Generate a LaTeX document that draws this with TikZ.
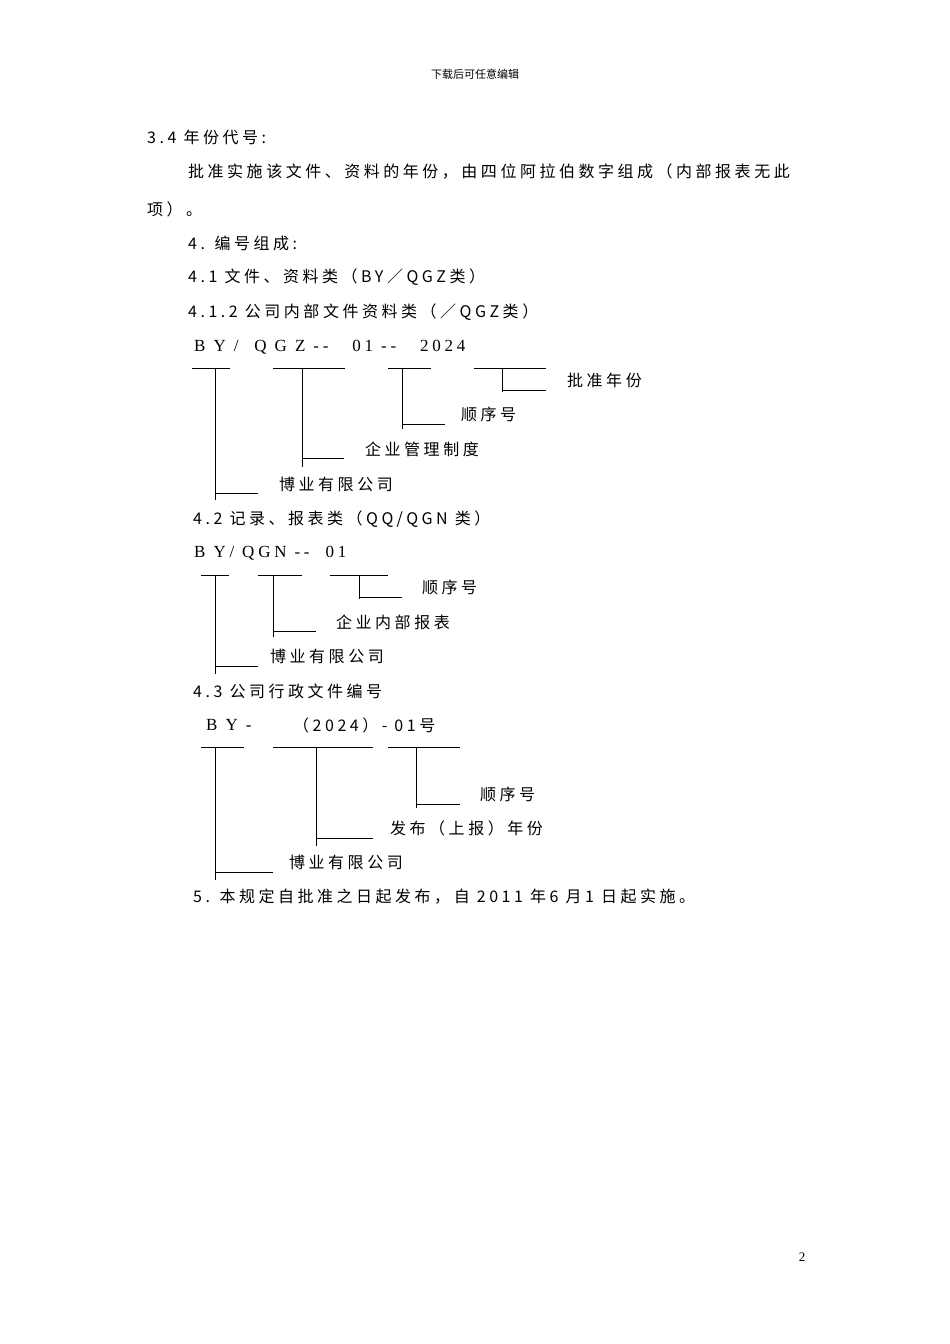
\documentclass[tikz,border=0pt]{standalone}
\usepackage{fontspec}
\setmainfont{Noto Sans CJK SC}[LetterSpace=22]
\newfontfamily\hdfont{Noto Sans CJK SC}
\newfontfamily\latfont{Liberation Serif}[LetterSpace=22]
\begin{document}
\begin{tikzpicture}[x=1pt,y=-1pt,
  txt/.style={anchor=west,inner sep=0pt,font=\fontsize{16}{18}\selectfont},
  code/.style={anchor=west,inner sep=0pt,font=\fontsize{17}{18}\latfont},
  ln/.style={line width=1pt}]
\useasboundingbox[fill=white] (0,0) rectangle (950,1344);
\node[inner sep=0pt,font=\fontsize{11}{12}\hdfont] (hd) at (475,74) {下载后可任意编辑};
\node[txt] (t1) at (147,137) {3.4 年份代号:};
\node[txt] (t2) at (188,172) {批准实施该文件、资料的年份，由四位阿拉伯数字组成（内部报表无此};
\node[txt] (t3) at (147,209) {项）。};
\node[txt] (t4) at (188,243) {4. 编号组成:};
\node[txt] (t5) at (188,277) {4.1 文件、资料类（BY／QGZ类）};
\node[txt] (t6) at (188,312) {4.1.2 公司内部文件资料类（／QGZ类）};
% diagram 1
\node[code] (c1) at (194,347) {B Y /\ \ Q G Z --\ \ \ 01 --\ \ \ 2024};
\draw[ln] (192,368)--(230,368) (273,368)--(345,368) (388,368)--(431,368) (474,368)--(546,368);
\draw[ln] (215,368)--(215,500) (215,493)--(258,493);
\draw[ln] (302,368)--(302,467) (302,458)--(344,458);
\draw[ln] (402,368)--(402,429) (402,424)--(445,424);
\draw[ln] (502,368)--(502,392) (502,390)--(546,390);
\node[txt] (a1) at (279,484) {博业有限公司};
\node[txt] (a2) at (365,449) {企业管理制度};
\node[txt] (a3) at (461,414) {顺序号};
\node[txt] (a4) at (567,380) {批准年份};
\node[txt] (t7) at (193,519) {4.2 记录、报表类（QQ/QGN 类）};
% diagram 2
\node[code] (c2) at (194,553) {B Y/ QGN --\ \ 01};
\draw[ln] (201,575)--(229,575) (258,575)--(302,575) (330,575)--(388,575);
\draw[ln] (215,575)--(215,674) (215,666)--(258,666);
\draw[ln] (273,575)--(273,637) (273,631)--(316,631);
\draw[ln] (359,575)--(359,599) (359,597)--(402,597);
\node[txt] (b1) at (270,656) {博业有限公司};
\node[txt] (b2) at (336,622) {企业内部报表};
\node[txt] (b3) at (422,587) {顺序号};
\node[txt] (t8) at (193,691) {4.3 公司行政文件编号};
% diagram 3
\node[code] (c3) at (206,725) {B Y -\ \ \ \ };
\node[txt] (c3b) at (293,725) {（2024）- 01号};
\draw[ln] (201,747)--(244,747) (273,747)--(373,747) (388,747)--(460,747);
\draw[ln] (215,747)--(215,880) (215,872)--(273,872);
\draw[ln] (316,747)--(316,846) (316,838)--(373,838);
\draw[ln] (416,747)--(416,808) (416,804)--(460,804);
\node[txt] (d1) at (289,862) {博业有限公司};
\node[txt] (d2) at (390,828) {发布（上报）年份};
\node[txt] (d3) at (480,794) {顺序号};
\node[txt] (t9) at (193,897) {5. 本规定自批准之日起发布，自 2011 年6 月1 日起实施。};
\node[inner sep=0pt,font=\fontsize{13}{14}\latfont] (pg) at (802,1257) {2};
\end{tikzpicture}
\end{document}
